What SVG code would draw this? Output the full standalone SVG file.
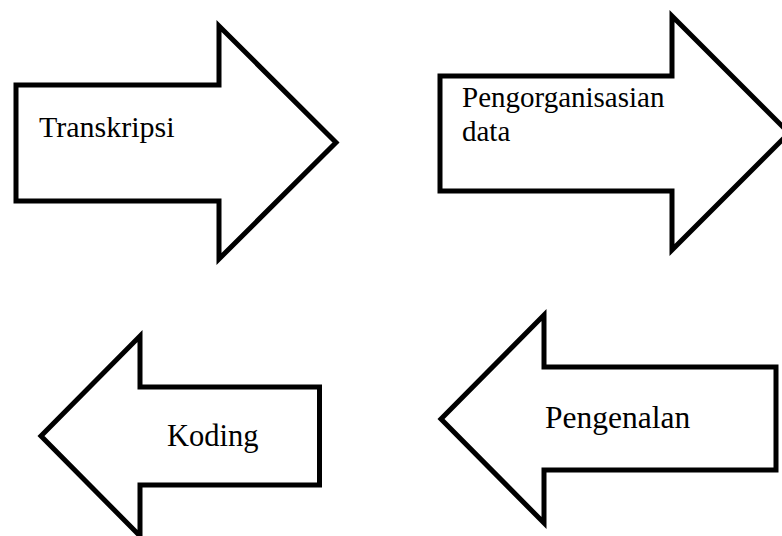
<svg xmlns="http://www.w3.org/2000/svg" width="782" height="536" viewBox="0 0 782 536">
  <style>
    .arrow { fill: #ffffff; stroke: #000000; stroke-width: 5; stroke-linejoin: miter; stroke-miterlimit: 10; }
    .label { font-family: "Liberation Serif", "Times New Roman", serif; font-size: 30px; fill: #000000; }
  </style>
  <rect width="782" height="536" fill="#ffffff"/>

  <!-- Right-pointing block arrow: Transkripsi -->
  <g id="transkripsi">
    <path class="arrow" d="M16,85 H219 V26 L336,142.5 L219,259 V201 H16 Z"/>
    <text class="label" x="39" y="137">Transkripsi</text>
  </g>

  <!-- Right-pointing block arrow, tip runs past the right edge -->
  <g id="pengorganisasian-data">
    <path class="arrow" d="M440,76 H672 V16 L789,133 L672,250 V191 H440 Z"/>
    <text class="label" x="462" y="107" style="font-size:29px">Pengorganisasian</text>
    <text class="label" x="462" y="141" style="font-size:29px">data</text>
  </g>

  <!-- Left-pointing block arrow: Pengenalan -->
  <g id="pengenalan">
    <path class="arrow" d="M776,367 H544 V315 L441,419 L544,523 V470 H776 Z"/>
    <text class="label" x="545" y="428" style="font-size:31.5px">Pengenalan</text>
  </g>

  <!-- Left-pointing block arrow: Koding -->
  <g id="koding">
    <path class="arrow" d="M319.5,387 H140 V336 L41,436 L140,536 V485 H319.5 Z"/>
    <text class="label" x="167" y="446" style="font-size:30.5px">Koding</text>
  </g>

  <g id="connectors"/>
</svg>
